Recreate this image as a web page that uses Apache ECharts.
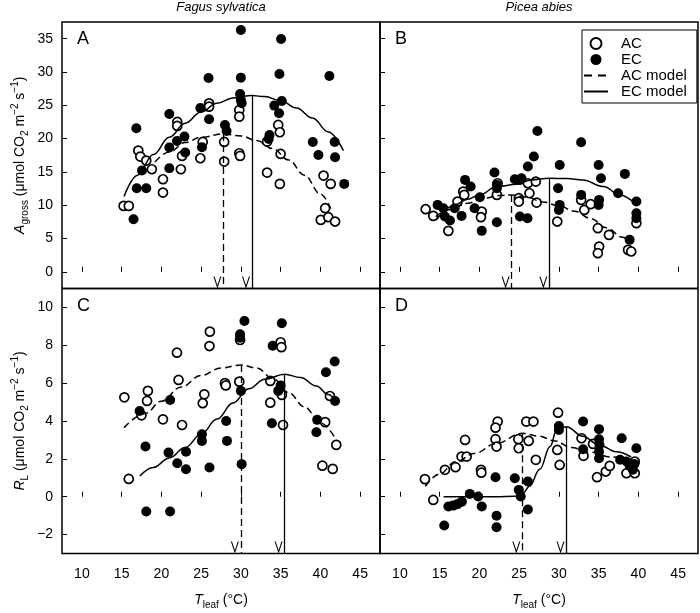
<!DOCTYPE html>
<html>
<head>
<meta charset="utf-8">
<title>Leaf temperature response</title>
<script src="https://cdn.jsdelivr.net/npm/echarts@6/dist/echarts.min.js"></script>
<style>
  html, body { margin: 0; padding: 0; background: #fff; }
  #myChart { width: 700px; height: 613px; }
</style>
</head>
<body>
<div id="myChart"></div>
<script>
// tick labels
var xTicks = [10, 15, 20, 25, 30, 35, 40, 45]
var yTicksTop = [0, 5, 10, 15, 20, 25, 30, 35]
var yTicksBottom = [-2, 0, 2, 4, 6, 8, 10]

// A: Fagus sylvatica, Agross  [Tleaf, value]
var fagusAgrossAC = [[15.25, 9.9], [15.9, 9.9], [17.1, 18.2], [17.35, 17.3], [18.1, 16.7], [18.8, 15.4], [20.2, 13.9], [20.2, 11.9], [22.0, 22.5], [22.0, 21.9], [22.45, 15.4], [22.6, 17.4], [24.9, 17.05], [25.2, 19.5], [26.0, 25.3], [26.0, 24.8], [27.9, 19.5], [27.9, 16.55], [29.8, 24.3], [29.8, 23.3], [29.8, 17.8], [29.9, 17.4], [33.3, 19.55], [33.3, 14.9], [34.7, 22.05], [34.9, 20.95], [35.0, 17.7], [34.9, 13.2], [40.4, 14.45], [41.3, 13.2], [40.6, 9.55], [40.05, 7.8], [41.0, 8.2], [41.85, 7.55]]
var fagusAgrossEC = [[16.5, 7.9], [16.85, 21.55], [16.9, 12.55], [17.56, 15.2], [18.1, 12.55], [21.0, 23.7], [21.0, 18.65], [21.0, 15.55], [21.96, 19.65], [22.9, 20.3], [23.0, 17.9], [25.1, 18.7], [24.9, 24.6], [25.93, 29.1], [26.0, 22.9], [28.0, 22.05], [28.2, 21.15], [30.0, 36.3], [30.0, 29.15], [29.9, 26.7], [30.0, 25.8], [30.1, 25.3], [34.2, 24.95], [35.15, 25.65], [34.8, 23.8], [34.85, 29.7], [35.06, 34.95], [33.6, 20.55], [33.5, 19.95], [39.05, 19.5], [41.8, 19.5], [39.75, 17.55], [41.85, 17.2], [41.13, 29.4], [43.0, 13.2]]
var fagusAgrossACModel = [[19.2, 16.5], [21, 18.0], [23, 19.4], [25, 20.2], [27.8, 20.7], [30, 20.4], [32, 19.7], [34, 18.5], [36, 16.8], [38, 14.5], [40, 11.7], [41.3, 9.5]]
var fagusAgrossECModel = [[15.3, 11.3], [17, 14.5], [19, 17.6], [21, 20.2], [23, 22.3], [25, 24.0], [27, 25.3], [29, 26.1], [31.4, 26.45], [33, 26.3], [35, 25.7], [37, 24.6], [39, 23.1], [41, 21.0], [42.9, 18.2]]
var fagusAgrossOpt = [[27.8, 20.7], [31.4, 26.45]] // AC, EC optimum

// B: Picea abies, Agross
var piceaAgrossAC = [[13.24, 9.4], [14.2, 8.4], [16.1, 6.15], [17.25, 10.55], [17.97, 12.05], [18.1, 11.55], [20.3, 9.05], [20.2, 8.2], [22.3, 13.3], [22.2, 11.55], [24.96, 11.05], [24.96, 10.55], [26.1, 13.3], [27.1, 13.55], [26.3, 11.8], [27.2, 10.4], [29.8, 7.55], [32.8, 10.8], [33.2, 9.3], [34.0, 10.15], [34.9, 6.55], [36.3, 5.55], [39.75, 7.3], [38.7, 3.3], [39.1, 3.05], [35.06, 3.8], [34.9, 2.8]]
var piceaAgrossEC = [[14.75, 10.05], [15.46, 9.55], [15.66, 8.3], [16.3, 7.7], [16.9, 9.55], [17.76, 8.4], [18.2, 13.8], [18.9, 12.8], [20.06, 11.2], [19.4, 9.55], [20.3, 6.15], [22.2, 7.45], [21.9, 14.9], [22.2, 13.05], [22.2, 12.55], [24.46, 13.9], [25.1, 13.8], [25.1, 8.3], [26.05, 8.05], [25.3, 14.05], [26.1, 15.8], [26.85, 17.3], [27.3, 21.15], [32.8, 19.45], [30.1, 16.05], [29.9, 12.55], [30.1, 10.05], [30.0, 9.3], [32.8, 11.55], [35.06, 10.8], [35.0, 10.05], [35.0, 16.05], [35.3, 14.05], [38.3, 14.7], [37.45, 11.8], [39.75, 10.55], [39.75, 8.8], [39.75, 8.05], [38.9, 4.8]]
var piceaAgrossACModel = [[14.5, 8.3], [16.5, 9.4], [18.5, 10.3], [20.5, 11.0], [22.5, 11.45], [24.05, 11.55], [26, 11.2], [28, 10.5], [30, 9.9], [32, 9.1], [34, 8.0], [36, 6.6], [38, 5.2], [39, 4.4]]
var piceaAgrossECModel = [[14.6, 7.8], [16.9, 10.05], [18.5, 10.9], [20, 11.55], [22.2, 12.8], [24.7, 13.15], [26.5, 13.8], [28.8, 14.05], [31, 14.0], [33, 13.8], [35.6, 12.8], [37.7, 11.55], [39.75, 10.05]]
var piceaAgrossOpt = [[24.05, 11.55], [28.8, 14.05]]

// C: Fagus sylvatica, RL
var fagusRlAC = [[15.34, 5.25], [15.9, 0.94], [17.5, 4.3], [18.3, 5.59], [18.2, 5.06], [20.2, 4.09], [21.96, 7.61], [22.16, 6.17], [22.6, 3.79], [25.4, 5.41], [25.2, 4.94], [26.1, 8.72], [26.05, 7.96], [28.0, 6.0], [28.1, 5.88], [29.8, 6.08], [29.9, 8.28], [33.7, 6.12], [33.7, 4.97], [35.0, 8.16], [35.1, 7.9], [35.15, 5.38], [35.3, 3.79], [41.2, 5.32], [40.6, 3.94], [42.0, 2.74], [40.25, 1.64], [41.55, 1.47]]
var fagusRlEC = [[17.26, 4.53], [18.0, 2.65], [18.1, -0.78], [21.1, 5.11], [20.9, 2.33], [21.1, -0.78], [22.0, 1.77], [23.1, 2.38], [23.1, 1.45], [25.1, 3.3], [25.1, 2.95], [26.05, 1.54], [28.15, 4.0], [28.25, 2.95], [30.1, 1.72], [30.0, 5.59], [29.9, 8.58], [29.9, 8.4], [30.45, 9.28], [34.0, 7.98], [35.15, 9.16], [35.0, 5.87], [34.7, 5.59], [33.9, 3.88], [41.8, 7.14], [40.7, 6.58], [41.85, 5.06], [39.6, 4.06], [39.5, 3.41]]
var fagusRlACModel = [[15.3, 3.65], [18, 4.4], [20, 5.05], [22.5, 5.8], [25, 6.4], [27.5, 6.8], [30, 6.96], [32, 6.8], [34, 6.25], [36, 5.5], [38, 4.75], [40, 3.9], [42, 3.0]]
var fagusRlECModel = [[17.3, 1.1], [19, 1.55], [21, 2.05], [23, 2.6], [25, 3.3], [27, 4.1], [29, 4.95], [31, 5.7], [33, 6.2], [35.5, 6.47], [37.5, 6.3], [39.5, 5.85], [41, 5.4], [42, 5.0]]
var fagusRlOpt = [[30.0, 6.96], [35.5, 6.47]]

// D: Picea abies, RL
var piceaRlAC = [[13.15, 0.93], [14.2, -0.17], [15.67, 1.42], [17.0, 1.56], [17.76, 2.12], [18.4, 2.12], [18.2, 3.0], [20.2, 1.42], [20.25, 1.27], [22.3, 3.97], [22.03, 3.65], [22.03, 3.04], [22.16, 2.65], [24.9, 3.04], [24.95, 2.56], [25.9, 3.97], [26.8, 3.97], [26.2, 2.95], [27.1, 1.95], [29.9, 4.44], [29.8, 2.47], [30.1, 1.68], [32.85, 3.09], [33.1, 2.16], [34.3, 2.79], [34.8, 1.03], [35.9, 1.33], [36.4, 1.63], [38.5, 1.24], [39.55, 1.24], [39.55, 1.86]]
var piceaRlEC = [[15.58, -1.52], [16.1, -0.52], [16.7, -0.47], [17.26, -0.39], [17.8, -0.26], [18.8, 0.15], [19.85, 0.01], [20.3, -0.52], [22.03, 1.03], [22.16, -1.01], [22.16, -1.61], [24.46, 0.98], [24.96, 0.36], [25.2, 0.01], [26.1, 0.8], [26.1, -0.68], [30.0, 3.74], [30.0, 3.53], [33.05, 3.97], [33.05, 2.51], [35.05, 3.57], [35.05, 3.04], [35.1, 2.74], [35.05, 2.38], [35.05, 2.03], [37.9, 3.09], [37.7, 1.95], [38.5, 1.86], [39.75, 2.56], [38.9, 1.63], [39.5, 1.73], [39.3, 1.42]]
var piceaRlACModel = [[13.2, 0.55], [15, 1.2], [17, 1.85], [19.5, 2.3], [22, 2.8], [25.4, 3.35], [27.5, 3.2], [29.5, 2.95], [31.5, 2.6], [34, 2.35], [36.5, 2.1], [39, 1.95]]
var piceaRlECModel = [[15.5, 0.0], [18, 0.0], [20, 0.0], [22, 0.0], [24.5, 0.02], [25.5, 0.2], [26.3, 0.55], [27.6, 1.45], [28.9, 2.65], [29.7, 3.5], [30.96, 3.7], [33, 3.2], [35, 2.75], [37.2, 2.38], [39.1, 2.1]]
var piceaRlOpt = [[25.4, 3.35], [30.96, 3.7]]

var FONT = '"Liberation Sans", Arial, Helvetica, sans-serif'
var DASH = [7, 4]
// open V arrow head, tip on top (markLine turns it along the line)
var ARROW = 'path://M0,10 L5,0 L10,10 L8.6,10 L5,2.8 L1.4,10 Z'

var richName = {
  n: { fontSize: 14, fontFamily: FONT, color: '#000', lineHeight: 20 },
  i: { fontSize: 14, fontFamily: FONT, color: '#000', fontStyle: 'italic', lineHeight: 20 },
  s: { fontSize: 10, fontFamily: FONT, color: '#000', verticalAlign: 'bottom', lineHeight: 14 },
  p: { fontSize: 10, fontFamily: FONT, color: '#000', verticalAlign: 'top', lineHeight: 12 }
}

var grids = [
  { left: 62, top: 22, width: 318, height: 266.5 },
  { left: 380, top: 22, width: 318, height: 266.5 },
  { left: 62, top: 288.5, width: 318, height: 265 },
  { left: 380, top: 288.5, width: 318, height: 265 }
]

function makeX (idx, showLabels) {
  return {
    type: 'value',
    gridIndex: idx,
    min: 7.5,
    max: 47.5,
    axisLine: { show: false },
    axisTick: { show: true, inside: true, length: 5, customValues: xTicks, lineStyle: { color: '#000', width: 1 } },
    axisLabel: { show: showLabels, customValues: xTicks, color: '#000', fontSize: 14, fontFamily: FONT, margin: 14 },
    splitLine: { show: false },
    name: showLabels ? '{i|T}{s|leaf}{n| (°C)}' : '',
    nameLocation: 'middle',
    nameGap: 37,
    nameTextStyle: { rich: richName }
  }
}

function makeY (idx, min, max, ticks, name) {
  return {
    type: 'value',
    gridIndex: idx,
    min: min,
    max: max,
    axisLine: { show: false },
    axisTick: { show: true, inside: true, length: 5, customValues: ticks, lineStyle: { color: '#000', width: 1 } },
    axisLabel: { show: !!name, customValues: ticks, color: '#000', fontSize: 14, fontFamily: FONT, margin: 9,
      formatter: function (v) { return String(v).replace('-', '\u2212') } },
    splitLine: { show: false },
    name: name || '',
    nameLocation: 'middle',
    nameRotate: 90,
    nameGap: 32,
    nameTextStyle: { rich: richName }
  }
}

function arrowLine (pt, yMin, dashed) {
  return {
    silent: true,
    symbol: ['none', ARROW],
    symbolSize: [8, 12],
    symbolOffset: [0, 6],
    label: { show: false },
    lineStyle: { color: '#000', width: 1.3, type: dashed ? DASH : 'solid' },
    data: [[{ coord: [pt[0], pt[1]] }, { coord: [pt[0], yMin] }]]
  }
}

function panelSeries (idx, ac, ec, acModel, ecModel, opt, yMin) {
  return [
    {
      name: 'AC model', type: 'line', xAxisIndex: idx, yAxisIndex: idx,
      data: acModel, smooth: 0.4, smoothMonotone: 'x', showSymbol: false, symbol: 'none',
      lineStyle: { color: '#000', width: 1.5, type: DASH },
      itemStyle: { color: '#000' },
      markLine: arrowLine(opt[0], yMin, true)
    },
    {
      name: 'EC model', type: 'line', xAxisIndex: idx, yAxisIndex: idx,
      data: ecModel, smooth: 0.4, smoothMonotone: 'x', showSymbol: false, symbol: 'none',
      lineStyle: { color: '#000', width: 1.5, type: 'solid' },
      itemStyle: { color: '#000' },
      markLine: arrowLine(opt[1], yMin, false)
    },
    {
      name: 'AC', type: 'scatter', xAxisIndex: idx, yAxisIndex: idx,
      data: ac, symbol: 'circle', symbolSize: 9,
      itemStyle: { color: '#fff', borderColor: '#000', borderWidth: 1.7, opacity: 1 }
    },
    {
      name: 'EC', type: 'scatter', xAxisIndex: idx, yAxisIndex: idx,
      data: ec, symbol: 'circle', symbolSize: 10,
      itemStyle: { color: '#000', opacity: 1 }
    }
  ]
}

var yNameA = '{i|A}{s|gross}{n| (μmol CO}{s|2}{n| m}{p|−2}{n| s}{p|−1}{n|)}'
var yNameR = '{i|R}{s|L}{n| (μmol CO}{s|2}{n| m}{p|−2}{n| s}{p|−1}{n|)}'

var myChart = echarts.init(document.getElementById('myChart'), null, { renderer: 'canvas' })

var letterStyle = { fontSize: 18, fontFamily: FONT, fill: '#000' }
// model lines in the legend: no marker, line only
var noMarker = { color: 'transparent', borderWidth: 0, opacity: 0 }

myChart.setOption({
  animation: false,
  backgroundColor: '#fff',
  grid: grids.map(function (g) {
    return Object.assign({ show: true, borderColor: '#000', borderWidth: 1.5, backgroundColor: 'transparent', containLabel: false }, g)
  }),
  xAxis: [makeX(0, false), makeX(1, false), makeX(2, true), makeX(3, true)],
  yAxis: [
    makeY(0, -2.5, 37.5, yTicksTop, yNameA),
    makeY(1, -2.5, 37.5, yTicksTop, null),
    makeY(2, -3, 11, yTicksBottom, yNameR),
    makeY(3, -3, 11, yTicksBottom, null)
  ],
  legend: {
    data: [
      { name: 'AC', icon: 'circle' },
      { name: 'EC', icon: 'circle' },
      { name: 'AC model', itemStyle: noMarker, lineStyle: { type: [8, 6], width: 2 } },
      { name: 'EC model', itemStyle: noMarker, lineStyle: { width: 2 } }
    ],
    orient: 'vertical',
    left: 582,
    top: 30,
    padding: [6, 10, 4, 1],
    itemGap: 1,
    itemWidth: 24,
    itemHeight: 11,
    borderColor: '#000',
    borderWidth: 1,
    borderRadius: 0,
    selectedMode: false,
    textStyle: { fontSize: 15, fontFamily: FONT, color: '#000', lineHeight: 15, padding: [0, 0, 0, 8] }
  },
  graphic: [
    { type: 'text', x: 221, y: 1, style: { text: 'Fagus sylvatica', fontSize: 13, fontStyle: 'italic', fontFamily: FONT, fill: '#000', textAlign: 'center' } },
    { type: 'text', x: 539, y: 1, style: { text: 'Picea abies', fontSize: 13, fontStyle: 'italic', fontFamily: FONT, fill: '#000', textAlign: 'center' } },
    { type: 'text', x: 77, y: 30, style: Object.assign({ text: 'A' }, letterStyle) },
    { type: 'text', x: 395, y: 30, style: Object.assign({ text: 'B' }, letterStyle) },
    { type: 'text', x: 77, y: 297, style: Object.assign({ text: 'C' }, letterStyle) },
    { type: 'text', x: 395, y: 297, style: Object.assign({ text: 'D' }, letterStyle) }
  ],
  series: [].concat(
    panelSeries(0, fagusAgrossAC, fagusAgrossEC, fagusAgrossACModel, fagusAgrossECModel, fagusAgrossOpt, -2.5),
    panelSeries(1, piceaAgrossAC, piceaAgrossEC, piceaAgrossACModel, piceaAgrossECModel, piceaAgrossOpt, -2.5),
    panelSeries(2, fagusRlAC, fagusRlEC, fagusRlACModel, fagusRlECModel, fagusRlOpt, -3),
    panelSeries(3, piceaRlAC, piceaRlEC, piceaRlACModel, piceaRlECModel, piceaRlOpt, -3)
  )
})
</script>
</body>
</html>
